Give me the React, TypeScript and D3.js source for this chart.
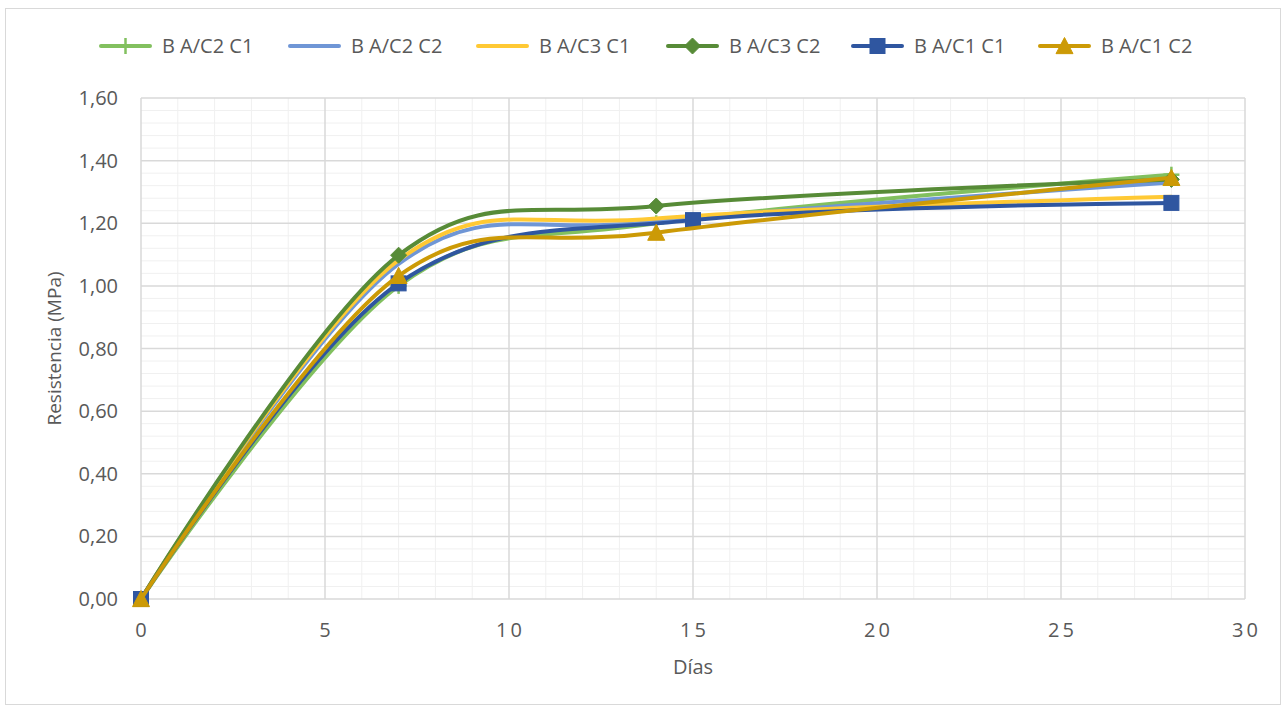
import React from "react";
import * as d3 from "d3";

const daysA = [0, 7, 14, 28];
const daysB = [0, 7, 15, 28];
const valC2C1 = [0, 1.0, 1.2, 1.355];
const valC2C2 = [0, 1.07, 1.205, 1.33];
const valC3C1 = [0, 1.082, 1.215, 1.285];
const valC3C2 = [0, 1.098, 1.255, 1.34];
const valC1C1 = [0, 1.008, 1.21, 1.265];
const valC1C2 = [0, 1.032, 1.17, 1.345];

const seriesNames = ["B A/C2 C1", "B A/C2 C2", "B A/C3 C1", "B A/C3 C2", "B A/C1 C1", "B A/C1 C2"];
const xTicks = [0, 5, 10, 15, 20, 25, 30];
const yTicks = [0, 0.2, 0.4, 0.6, 0.8, 1.0, 1.2, 1.4, 1.6];

type Marker = "plus" | "none" | "diamond" | "square" | "triangle";

const series: { name: string; days: number[]; vals: number[]; color: string; marker: Marker }[] = [
  { name: seriesNames[0], days: daysA, vals: valC2C1, color: "#82C05F", marker: "plus" },
  { name: seriesNames[1], days: daysA, vals: valC2C2, color: "#6F96D6", marker: "none" },
  { name: seriesNames[2], days: daysA, vals: valC3C1, color: "#FFC934", marker: "none" },
  { name: seriesNames[3], days: daysA, vals: valC3C2, color: "#578B37", marker: "diamond" },
  { name: seriesNames[4], days: daysB, vals: valC1C1, color: "#2F56A0", marker: "square" },
  { name: seriesNames[5], days: daysA, vals: valC1C2, color: "#CC9A06", marker: "triangle" },
];

const legendX = [101, 290, 478, 668, 853, 1040];

const FONT = "'Open Sans', 'Noto Sans', sans-serif";
const TXT = "#595959";

function MarkerShape({ type, x, y, color }: { type: Marker; x: number; y: number; color: string }) {
  if (type === "none") return null;
  if (type === "plus")
    return (
      <g stroke={color} strokeWidth={2.5}>
        <line x1={x - 8} x2={x + 8} y1={y} y2={y} />
        <line x1={x} x2={x} y1={y - 8} y2={y + 8} />
      </g>
    );
  if (type === "diamond") {
    const s = 8;
    return <path d={`M${x},${y - s}L${x + s},${y}L${x},${y + s}L${x - s},${y}Z`} fill={color} stroke={color} strokeWidth={1} />;
  }
  if (type === "square") {
    const s = 7.5;
    return <rect x={x - s} y={y - s} width={2 * s} height={2 * s} fill={color} stroke={color} strokeWidth={1} />;
  }
  const s = 8.5;
  return <path d={`M${x},${y - s}L${x + s},${y + s * 0.9}L${x - s},${y + s * 0.9}Z`} fill={color} stroke={color} strokeWidth={1} />;
}

export default function App() {
  const W = 1286;
  const H = 709;
  const x = d3.scaleLinear().domain([0, 30]).range([141, 1245]);
  const y = d3.scaleLinear().domain([0, 1.6]).range([599, 98]);

  const line = d3
    .line<[number, number]>()
    .x((d) => x(d[0]))
    .y((d) => y(d[1]))
    .curve(d3.curveCardinal.tension(0));

  const minorX = d3.range(0, 31, 1).filter((v) => v % 5 !== 0);
  const minorY = d3.range(0, 41, 1).map((i) => i * 0.04).filter((_, i) => i % 5 !== 0);
  const fmt = (v: number) => v.toFixed(2).replace(".", ",");

  return (
    <svg width={W} height={H} style={{ position: "absolute", left: 0, top: 0, background: "#fff" }} fontFamily={FONT}>
      <rect x={5.5} y={8.5} width={1275} height={696} fill="#fff" stroke="#d9d9d9" strokeWidth={1} />
      {/* minor grid */}
      <g stroke="#f0f0f0" strokeWidth={1}>
        {minorX.map((v) => (
          <line key={"mx" + v} x1={x(v)} x2={x(v)} y1={y(0)} y2={y(1.6)} />
        ))}
        {minorY.map((v, i) => (
          <line key={"my" + i} x1={x(0)} x2={x(30)} y1={y(v)} y2={y(v)} />
        ))}
      </g>
      {/* major grid */}
      <g stroke="#d9d9d9" strokeWidth={1.5}>
        {xTicks.map((v) => (
          <line key={"Mx" + v} x1={x(v)} x2={x(v)} y1={y(0)} y2={y(1.6)} />
        ))}
        {yTicks.map((v) => (
          <line key={"My" + v} x1={x(0)} x2={x(30)} y1={y(v)} y2={y(v)} />
        ))}
      </g>
      {/* tick labels */}
      <g fill={TXT} fontSize={20}>
        {yTicks.map((v) => (
          <text key={"yt" + v} x={118} y={y(v)} dy="0.35em" textAnchor="end">
            {fmt(v)}
          </text>
        ))}
        {xTicks.map((v) => (
          <text key={"xt" + v} x={x(v) + (v >= 10 ? 1.5 : 0)} y={637} textAnchor="middle" letterSpacing={v >= 10 ? 3 : 0}>
            {String(v)}
          </text>
        ))}
        <text x={693} y={674} textAnchor="middle">
          Días
        </text>
        <text transform={`translate(61,${y(0.8)}) rotate(-90)`} textAnchor="middle" fontSize={19}>
          Resistencia (MPa)
        </text>
      </g>
      {/* series */}
      {series.map((s) => {
        const pts = s.days.map((d, i) => [d, s.vals[i]] as [number, number]);
        return (
          <g key={s.name}>
            <path d={line(pts) || ""} fill="none" stroke={s.color} strokeWidth={4} strokeLinecap="round" />
            {pts.map((p, i) => (
              <MarkerShape key={i} type={s.marker} x={x(p[0])} y={y(p[1])} color={s.color} />
            ))}
          </g>
        );
      })}
      {/* legend */}
      <g fontSize={20} fill={TXT}>
        {series.map((s, i) => {
          const lx = legendX[i];
          return (
            <g key={"lg" + s.name}>
              <line x1={lx} x2={lx + 49} y1={46} y2={46} stroke={s.color} strokeWidth={4} strokeLinecap="round" />
              <MarkerShape type={s.marker} x={lx + 24.5} y={46} color={s.color} />
              <text x={lx + 61} y={46} dy="0.35em">
                {s.name}
              </text>
            </g>
          );
        })}
      </g>
    </svg>
  );
}
